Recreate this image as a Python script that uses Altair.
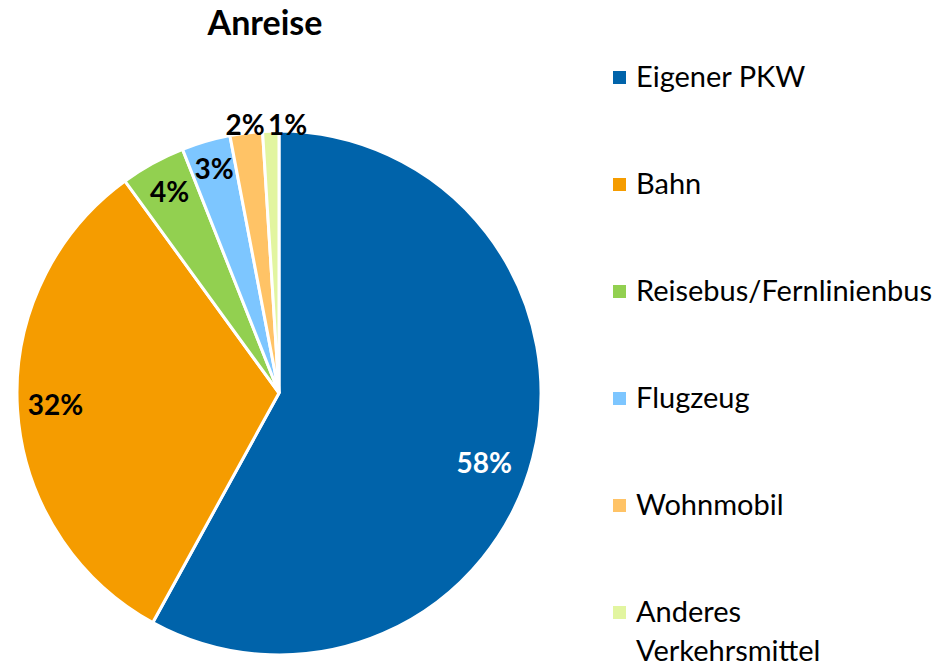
import altair as alt
import pandas as pd

categories = ["Eigener PKW", "Bahn", "Reisebus/Fernlinienbus", "Flugzeug", "Wohnmobil", "Anderes Verkehrsmittel"]
shares = [58, 32, 4, 3, 2, 1]
colors = ["#0063AA", "#F59C00", "#92D050", "#7DC6FF", "#FFC366", "#E2F5A0"]

df = pd.DataFrame({"cat": categories, "share": shares, "idx": list(range(len(categories)))})
df["lbl"] = [f"{s}%" for s in shares]

FONT = "Lato"

base = alt.Chart(df).encode(
    theta=alt.Theta("share:Q", stack=True),
    order=alt.Order("idx:Q"),
)

arcs = base.mark_arc(stroke="white", strokeWidth=3).encode(
    color=alt.Color(
        "cat:N",
        sort=categories,
        scale=alt.Scale(domain=categories, range=colors),
        legend=alt.Legend(
            title=None,
            orient="none",
            legendX=588,
            legendY=-68,
            symbolType="square",
            symbolSize=169,
            symbolStrokeWidth=0,
            labelFont=FONT,
            labelFontSize=29,
            labelColor="black",
            labelOffset=2,
            labelLimit=400,
            rowPadding=77,
            labelExpr="datum.label == 'Anderes Verkehrsmittel' ? ['Anderes', 'Verkehrsmittel'] : datum.label",
        ),
    )
)


def label_layer(names, radius, color, dx=0, dy=0):
    cond = " || ".join([f"datum.cat == '{n}'" for n in names])
    return base.transform_calculate(t=f"({cond}) ? datum.lbl : ''").mark_text(
        radius=radius, font=FONT, fontSize=28, fontWeight="bold", color=color,
        align="center", baseline="middle", dx=dx, dy=dy,
    ).encode(text="t:N")


layers = [
    arcs,
    label_layer(["Eigener PKW"], 217, "white", dx=-5, dy=18),
    label_layer(["Bahn"], 224, "black"),
    label_layer(["Reisebus/Fernlinienbus"], 227, "black"),
    label_layer(["Flugzeug"], 233, "black", dy=2),
    label_layer(["Wohnmobil"], 271, "black", dy=3),
    label_layer(["Anderes Verkehrsmittel"], 271, "black", dx=17, dy=5),
]

chart = alt.layer(*layers).properties(
    width=524,
    height=524,
    autosize=alt.AutoSizeParams(type="none"),
    padding={"left": 9, "top": 123, "right": 397, "bottom": 20},
    title=alt.TitleParams(
        "Anreise", font=FONT, fontSize=34, fontWeight="bold", color="black",
        anchor="middle", dx=-14, offset=21,
    ),
).configure_view(stroke=None).configure(style={"guide-label": {"lineHeight": 39}})

chart.save("out.html", embed_options={"renderer": "svg", "actions": False})
